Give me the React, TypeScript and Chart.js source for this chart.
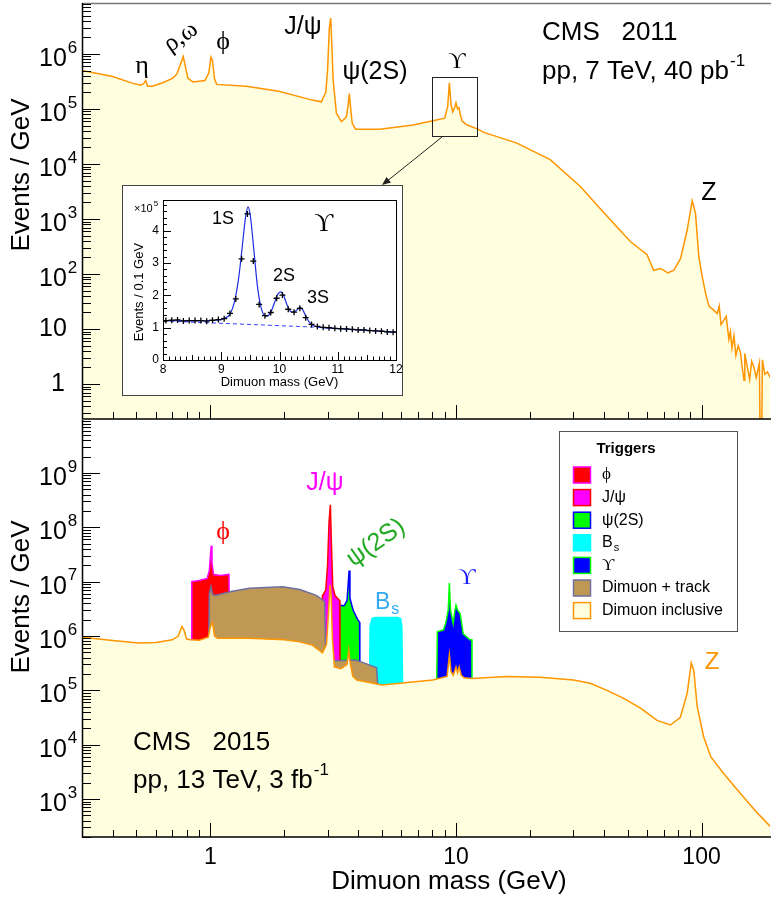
import React, { useEffect, useRef } from 'react';
import { Chart, registerables } from 'chart.js';

Chart.register(...registerables);

const SANS = '"Liberation Sans", Arial, Helvetica, sans-serif';
const SERIF = '"Liberation Serif", "DejaVu Serif", "Times New Roman", serif';

// ---------------- 2011: dimuon inclusive (top panel) ----------------
const mass2011 = [0.3, 0.4, 0.48, 0.52, 0.535, 0.545, 0.555, 0.58, 0.64, 0.7, 0.73, 0.755, 0.775, 0.79, 0.81, 0.85, 0.95, 0.985, 1.005, 1.02, 1.04, 1.06, 1.4, 1.9, 2.6, 2.83, 2.95, 3.0, 3.05, 3.09, 3.12, 3.16, 3.26, 3.42, 3.58, 3.64, 3.68, 3.72, 3.78, 3.9, 4.9, 6.7, 7.8, 9.0, 9.25, 9.4, 9.55, 9.7, 9.9, 10.0, 10.15, 10.3, 10.4, 10.6, 11.1, 12.3, 12.9, 17.7, 24.2, 32.1, 37.5, 43.9, 51.3, 60.0, 63.8, 68.0, 73.0, 77.1, 82.1, 87.4, 91.6, 94.5, 97.5, 100.7, 103.8, 107.2, 112, 115.9, 118, 120, 123.3, 126, 129.2, 131, 133, 135.5, 138, 141, 144.3, 146, 148.9, 150, 153.7, 157, 160, 163.5, 167, 172, 173.5, 175.5, 176.9, 181, 185.5, 193];
const events2011 = [5.0e5, 3.9e5, 2.95e5, 2.7e5, 2.9e5, 3.3e5, 2.6e5, 2.6e5, 3.0e5, 3.6e5, 4.3e5, 6.5e5, 9.0e5, 6.0e5, 3.6e5, 3.1e5, 3.3e5, 4.5e5, 8.8e5, 7.5e5, 3.5e5, 2.8e5, 2.6e5, 2.1e5, 1.45e5, 1.35e5, 2.0e5, 5.0e5, 3.0e6, 4.5e6, 1.6e6, 3.4e5, 8.3e4, 5.9e4, 7.2e4, 1.2e5, 1.9e5, 1.1e5, 5.5e4, 4.3e4, 4.3e4, 5.1e4, 5.9e4, 6.8e4, 1.1e5, 3.0e5, 1.2e5, 8.9e4, 1.1e5, 1.3e5, 1.0e5, 1.05e5, 8.0e4, 6.0e4, 5.1e4, 4.3e4, 3.8e4, 2.4e4, 1.2e4, 3.9e3, 1.8e3, 830, 390, 224, 117, 126, 105, 117, 190, 630, 2140, 1260, 204, 89, 45, 26, 22, 19, 26, 12, 14.5, 17, 6.5, 9, 4.5, 7.5, 3.3, 5, 3.6, 2.2, 1.17, 3.6, 2.0, 1.2, 2.6, 2.0, 1.3, 2.4, 0.05, 0.05, 2.75, 1.5, 1.66, 1.17];

// ---------------- 2015: dimuon inclusive (bottom panel) ----------------
const mass2015 = [0.3, 0.4, 0.51, 0.6, 0.7, 0.74, 0.765, 0.78, 0.8, 0.83, 0.9, 0.98, 1.0, 1.02, 1.04, 1.07, 1.44, 2.0, 2.31, 2.6, 2.86, 2.97, 3.03, 3.07, 3.1, 3.14, 3.2, 3.4, 3.6, 3.66, 3.7, 3.8, 3.95, 5.0, 8.05, 9.2, 9.4, 9.55, 9.75, 10.0, 10.15, 10.3, 10.5, 10.8, 11.6, 16.1, 22.0, 30.1, 35.2, 41.2, 48.2, 56.4, 65.9, 74.7, 82.0, 87.4, 90.8, 93.0, 96.0, 102, 109, 123, 144, 169, 191];
const events2015 = [9.5e5, 8.3e5, 7.4e5, 7.6e5, 8.5e5, 1.0e6, 1.5e6, 1.3e6, 8.8e5, 8.5e5, 8.4e5, 9.5e5, 1.5e6, 1.75e6, 1.0e6, 9.1e5, 9.1e5, 8.5e5, 7.8e5, 6.8e5, 4.9e5, 7.0e5, 3.0e6, 8.7e6, 6.0e6, 9.0e5, 2.7e5, 2.5e5, 3.0e5, 5.5e5, 3.5e5, 1.8e5, 1.55e5, 1.26e5, 1.55e5, 1.8e5, 4.5e5, 2.2e5, 1.9e5, 2.7e5, 2.1e5, 2.7e5, 1.9e5, 1.7e5, 1.66e5, 1.8e5, 1.74e5, 1.55e5, 1.35e5, 1.0e5, 7.1e4, 4.7e4, 2.8e4, 2.3e4, 3.2e4, 8.9e4, 3.2e5, 2.3e5, 5.0e4, 1.4e4, 6.0e3, 2.95e3, 1.26e3, 550, 310];

// Dimuon + track trigger
const trackMass = [0.985, 0.99, 1.005, 1.02, 1.05, 1.2, 1.44, 1.97, 2.31, 2.7, 2.87, 2.92, 2.95, 3.2, 3.9, 4.3, 4.75, 4.8];
const trackEvents = [9.5e5, 6.0e6, 8.1e6, 5.8e6, 5.6e6, 6.5e6, 7.6e6, 8.1e6, 7.2e6, 5.6e6, 4.6e6, 4.2e6, 3.5e5, 3.5e5, 3.6e5, 3.1e5, 2.6e5, 1.3e5];
// phi trigger
const phiMass = [0.834, 0.84, 0.9, 0.97, 0.99, 1.0, 1.008, 1.015, 1.03, 1.1, 1.19, 1.196];
const phiEvents = [8.5e5, 1.0e7, 1.05e7, 1.15e7, 1.6e7, 3.0e7, 4.6e7, 2.2e7, 1.35e7, 1.3e7, 1.37e7, 9.0e5];
// J/psi trigger
const jpsiMass = [2.855, 2.86, 2.95, 3.0, 3.04, 3.08, 3.11, 3.15, 3.22, 3.36, 3.37];
const jpsiEvents = [4.9e5, 5.5e6, 7.0e6, 2.0e7, 1.2e8, 2.6e8, 5.0e7, 8.0e6, 5.5e6, 4.5e6, 2.0e5];
// psi(2S) trigger
const psi2sMass = [3.335, 3.34, 3.5, 3.6, 3.64, 3.67, 3.7, 3.81, 3.98, 4.05, 4.06];
const psi2sEvents = [2.0e5, 3.7e6, 3.6e6, 4.5e6, 9.0e6, 1.6e7, 5.0e6, 3.0e6, 2.0e6, 1.8e6, 1.5e5];
// Bs trigger
const bsMass = [4.45, 4.47, 4.55, 4.7, 5.8, 5.95, 6.02, 6.06];
const bsEvents = [1.3e5, 1.5e6, 2.1e6, 2.2e6, 2.2e6, 2.1e6, 1.5e6, 1.3e5];
// Upsilon trigger
const upsMass = [8.35, 8.4, 8.9, 9.1, 9.3, 9.4, 9.5, 9.74, 9.9, 10.0, 10.15, 10.4, 10.7, 11.4, 11.6, 11.62];
const upsEvents = [1.55e5, 1.2e6, 1.3e6, 1.8e6, 3.0e6, 9.4e6, 3.0e6, 1.7e6, 3.0e6, 3.7e6, 3.0e6, 2.6e6, 1.1e6, 8.5e5, 8.5e5, 1.66e5];

// ---------------- inset: Upsilon region (x10^5 events / 0.1 GeV) ----------------
const insetBinMass = [8.05, 8.15, 8.25, 8.35, 8.45, 8.55, 8.65, 8.75, 8.85, 8.95, 9.05, 9.15, 9.25, 9.35, 9.45, 9.55, 9.65, 9.75, 9.85, 9.95, 10.05, 10.15, 10.25, 10.35, 10.45, 10.55, 10.65, 10.75, 10.85, 10.95, 11.05, 11.15, 11.25, 11.35, 11.45, 11.55, 11.65, 11.75, 11.85, 11.95];
const insetBinCounts = [1.22, 1.23, 1.24, 1.21, 1.22, 1.22, 1.22, 1.2, 1.23, 1.25, 1.28, 1.44, 1.89, 3.13, 4.52, 3.06, 1.72, 1.37, 1.47, 1.91, 2.01, 1.57, 1.48, 1.6, 1.31, 1.1, 1.04, 1.01, 1.0, 0.98, 0.97, 0.96, 0.95, 0.93, 0.93, 0.91, 0.9, 0.89, 0.87, 0.86];
const fitMass = [8.0, 8.5, 8.9, 9.05, 9.15, 9.22, 9.3, 9.36, 9.42, 9.46, 9.5, 9.56, 9.62, 9.68, 9.74, 9.79, 9.85, 9.92, 9.97, 10.02, 10.07, 10.13, 10.19, 10.24, 10.3, 10.35, 10.4, 10.46, 10.52, 10.6, 10.7, 11.0, 11.5, 12.0];
const fitCounts = [1.22, 1.21, 1.23, 1.28, 1.42, 1.75, 2.55, 3.5, 4.45, 4.74, 4.45, 3.4, 2.3, 1.65, 1.38, 1.36, 1.48, 1.8, 2.03, 2.11, 2.0, 1.7, 1.5, 1.48, 1.55, 1.63, 1.55, 1.32, 1.15, 1.05, 1.01, 0.97, 0.92, 0.86];
const bkgMass = [8.0, 10.7, 12.0];
const bkgCounts = [1.21, 1.01, 0.86];

// ticks
const xTickValues = [1, 10, 100];
const xTickLabels = ['1', '10', '100'];
const topYDecades = [0, 1, 2, 3, 4, 5, 6];
const botYDecades = [3, 4, 5, 6, 7, 8, 9];
const insetXTicks = [8, 9, 10, 11, 12];
const insetYTicks = [0, 1, 2, 3, 4];

// legend
const legendLabels = ['ϕ', 'J/ψ', 'ψ(2S)', 'B', 'ϒ', 'Dimuon + track', 'Dimuon inclusive'];
const legendFills = ['#ff0000', '#ff00ff', '#00ff00', '#00ffff', '#0000ff', '#c09855', '#ffffe0'];
const legendBorders = ['#ff00ff', '#ff0000', '#0000ff', '#00ffff', '#00ff00', '#6f6f9f', '#ff9500'];

type Pt = { x: number; y: number };
const zip = (xs: number[], ys: number[]): Pt[] => xs.map((x, i) => ({ x, y: ys[i] }));

function logTicks(min: number, max: number) {
  const out: { v: number; major: boolean }[] = [];
  for (let d = Math.floor(Math.log10(min)); d <= Math.ceil(Math.log10(max)); d++) {
    for (let k = 1; k <= 9; k++) {
      const v = k * Math.pow(10, d);
      if (v >= min && v <= max) out.push({ v, major: k === 1 });
    }
  }
  return out;
}

type TOpt = { size: number; color?: string; align?: CanvasTextAlign; font?: string; bold?: boolean; rot?: number };
function txt(ctx: CanvasRenderingContext2D, s: string, x: number, y: number, o: TOpt) {
  ctx.save();
  ctx.translate(x, y);
  if (o.rot) ctx.rotate((o.rot * Math.PI) / 180);
  ctx.font = `${o.bold ? 'bold ' : ''}${o.size}px ${o.font || SANS}`;
  ctx.fillStyle = o.color || '#000';
  ctx.textAlign = o.align || 'center';
  ctx.textBaseline = 'middle';
  ctx.fillText(s, 0, 0);
  ctx.restore();
}
// base text + superscript (or subscript); x is left edge
function supTxt(ctx: CanvasRenderingContext2D, base: string, sup: string, x: number, y: number, size: number, color = '#000', sub = false, supSize = 0.65) {
  ctx.save();
  ctx.font = `${size}px ${SANS}`;
  ctx.fillStyle = color;
  ctx.textAlign = 'left';
  ctx.textBaseline = 'middle';
  ctx.fillText(base, x, y);
  const w = ctx.measureText(base).width;
  ctx.font = `${Math.round(size * supSize)}px ${SANS}`;
  ctx.fillText(sup, x + w + 1, sub ? y + size * 0.3 : y - size * 0.4);
  ctx.restore();
}

function drawLogFrame(chart: any, yDecades: number[], xLabels: boolean) {
  const { ctx, chartArea: a } = chart;
  const xs = chart.scales.x;
  const ys = chart.scales.y;
  ctx.save();
  ctx.strokeStyle = '#000';
  ctx.lineWidth = 1;
  ctx.beginPath();
  for (const t of logTicks(ys.min, ys.max)) {
    const py = Math.round(ys.getPixelForValue(t.v)) + 0.5;
    ctx.moveTo(a.left, py);
    ctx.lineTo(a.left + (t.major ? 18 : 9), py);
  }
  for (const t of logTicks(xs.min, xs.max)) {
    const px = Math.round(xs.getPixelForValue(t.v)) + 0.5;
    ctx.moveTo(px, a.bottom);
    ctx.lineTo(px, a.bottom - (t.major ? 14 : 7));
  }
  ctx.stroke();
  ctx.lineWidth = 1.5;
  ctx.beginPath();
  ctx.moveTo(a.left + 0.5, a.top);
  ctx.lineTo(a.left + 0.5, a.bottom);
  ctx.lineTo(a.right + 1, a.bottom);
  ctx.stroke();
  // y labels
  for (const d of yDecades) {
    const py = ys.getPixelForValue(Math.pow(10, d));
    if (d === 0) txt(ctx, '1', 58, py, { size: 25 });
    else if (d === 1) txt(ctx, '10', 39, py, { size: 25, align: 'left' });
    else {
      ctx.font = `25px ${SANS}`;
      ctx.fillStyle = '#000';
      ctx.textAlign = 'left';
      ctx.textBaseline = 'middle';
      ctx.fillText('10', 39, py + 5);
      const w = ctx.measureText('10').width;
      ctx.font = `17px ${SANS}`;
      ctx.fillText(String(d), 39 + w + 1, py - 6);
    }
  }
  if (xLabels) {
    xTickValues.forEach((v, i) => {
      txt(ctx, xTickLabels[i], xs.getPixelForValue(v), a.bottom + 21, { size: 23 });
    });
  }
  ctx.restore();
}

function area(label: string, xs: number[], ys: number[], fill: string, line: string, width = 1.5) {
  return {
    label,
    data: zip(xs, ys),
    borderColor: line,
    backgroundColor: fill,
    borderWidth: width,
    fill: 'start',
    pointRadius: 0,
    tension: 0,
  };
}

const baseOptions = (padding: any, ymin: number, ymax: number) => ({
  responsive: false,
  animation: false,
  devicePixelRatio: 1,
  events: [],
  layout: { padding },
  plugins: { legend: { display: false }, tooltip: { enabled: false } },
  scales: {
    x: { type: 'logarithmic', min: 0.3, max: 190, display: false },
    y: { type: 'logarithmic', min: ymin, max: ymax, display: false },
  },
});

function makeTop(canvas: HTMLCanvasElement) {
  const plugin = {
    id: 'topFrame',
    afterDraw(chart: any) {
      const ctx: CanvasRenderingContext2D = chart.ctx;
      const a = chart.chartArea;
      ctx.save();
      ctx.strokeStyle = '#777';
      ctx.lineWidth = 1.5;
      ctx.beginPath();
      ctx.moveTo(a.left, a.top + 0.5);
      ctx.lineTo(a.right + 1, a.top + 0.5);
      ctx.stroke();
      ctx.restore();
      drawLogFrame(chart, topYDecades, false);
      // Upsilon box and arrow
      ctx.save();
      ctx.strokeStyle = '#222';
      ctx.lineWidth = 1;
      ctx.strokeRect(432.5, 77.5, 45, 59);
      ctx.beginPath();
      ctx.moveTo(442, 137);
      ctx.lineTo(386, 182);
      ctx.stroke();
      ctx.fillStyle = '#222';
      ctx.beginPath();
      ctx.moveTo(382, 185);
      ctx.lineTo(391, 182.5);
      ctx.lineTo(386.5, 177);
      ctx.closePath();
      ctx.fill();
      ctx.restore();
      // peak labels
      txt(ctx, 'η', 142, 66, { size: 26, font: SERIF });
      txt(ctx, 'ρ,ω', 181, 37, { size: 25, font: SERIF, rot: -35 });
      txt(ctx, 'ϕ', 223, 42, { size: 26, font: SERIF });
      txt(ctx, 'J/ψ', 303, 27, { size: 25 });
      txt(ctx, 'ψ(2S)', 375, 72, { size: 25 });
      txt(ctx, 'ϒ', 457, 62, { size: 24, font: SERIF });
      txt(ctx, 'Z', 709, 193, { size: 25 });
      txt(ctx, 'CMS   2011', 542, 33, { size: 26, align: 'left' });
      supTxt(ctx, 'pp, 7 TeV, 40 pb', '-1', 542, 72, 26);
      txt(ctx, 'Events / GeV', 22, 175, { size: 26, rot: -90 });
    },
  };
  return new Chart(canvas, {
    type: 'line',
    data: { datasets: [area('Dimuon inclusive 2011', mass2011, events2011, '#ffffe0', '#ff9500', 1.5) as any] },
    options: baseOptions({ left: 82, top: 3, right: 1, bottom: 1 }, 0.231, 8.45e6) as any,
    plugins: [plugin],
  });
}

function makeBottom(canvas: HTMLCanvasElement) {
  const plugin = {
    id: 'botFrame',
    afterDraw(chart: any) {
      const ctx: CanvasRenderingContext2D = chart.ctx;
      drawLogFrame(chart, botYDecades, true);
      txt(ctx, 'Dimuon mass (GeV)', 449, 462, { size: 26 });
      txt(ctx, 'Events / GeV', 22, 177, { size: 26, rot: -90 });
      // peak labels
      txt(ctx, 'ϕ', 223, 112, { size: 26, font: SERIF, color: '#ff0000' });
      txt(ctx, 'J/ψ', 325, 63, { size: 25, color: '#ff00ff' });
      txt(ctx, 'ψ(2S)', 376, 123, { size: 25, color: '#22aa22', rot: -35 });
      supTxt(ctx, 'B', 's', 375, 183, 23, '#33aaee', true, 0.7);
      txt(ctx, 'ϒ', 467, 158, { size: 24, font: SERIF, color: '#2020ff' });
      txt(ctx, 'Z', 712, 242, { size: 24, color: '#ff9500' });
      txt(ctx, 'CMS   2015', 133, 323, { size: 26, align: 'left' });
      supTxt(ctx, 'pp, 13 TeV, 3 fb', '-1', 133, 361, 26);
      // legend
      ctx.save();
      ctx.fillStyle = '#fff';
      ctx.strokeStyle = '#555';
      ctx.lineWidth = 1;
      ctx.fillRect(559.5, 11.5, 178, 200);
      ctx.strokeRect(559.5, 11.5, 178, 200);
      ctx.restore();
      txt(ctx, 'Triggers', 626, 29, { size: 15, bold: true });
      legendLabels.forEach((lab, i) => {
        const cy = 55 + i * 22.6;
        ctx.save();
        ctx.fillStyle = legendFills[i];
        ctx.strokeStyle = legendBorders[i];
        ctx.lineWidth = 1.5;
        ctx.fillRect(573.5, cy - 8, 17, 16);
        ctx.strokeRect(573.5, cy - 8, 17, 16);
        ctx.restore();
        if (lab === 'B') supTxt(ctx, 'B', 's', 602, cy, 16, '#000', true, 0.7);
        else if (lab === 'ϒ' || lab === 'ϕ') txt(ctx, lab, 602, cy, { size: 17, align: 'left', font: SERIF });
        else txt(ctx, lab, 602, cy, { size: 16, align: 'left' });
      });
    },
  };
  return new Chart(canvas, {
    type: 'line',
    data: {
      datasets: [
        area('Dimuon inclusive', mass2015, events2015, '#ffffe0', '#ff9500', 1.5),
        area('Dimuon + track', trackMass, trackEvents, '#c09855', '#6f6f9f', 1.5),
        area('phi', phiMass, phiEvents, '#ff0000', '#ff00ff', 1.5),
        area('J/psi', jpsiMass, jpsiEvents, '#ff00ff', '#ff0000', 1.5),
        area('psi(2S)', psi2sMass, psi2sEvents, '#00ff00', '#0000ff', 1.5),
        area('Bs', bsMass, bsEvents, '#00ffff', '#00ffff', 1.5),
        area('Upsilon', upsMass, upsEvents, '#0000ff', '#00ff00', 1.5),
      ] as any,
    },
    options: baseOptions({ left: 82, top: 0, right: 1, bottom: 63 }, 200, 9.45e9) as any,
    plugins: [plugin],
  });
}

function makeInset(canvas: HTMLCanvasElement) {
  const plugin = {
    id: 'insetFrame',
    afterDraw(chart: any) {
      const ctx: CanvasRenderingContext2D = chart.ctx;
      const a = chart.chartArea;
      const xs = chart.scales.x;
      const ys = chart.scales.y;
      ctx.save();
      ctx.strokeStyle = '#000';
      ctx.lineWidth = 1;
      ctx.strokeRect(a.left + 0.5, a.top + 0.5, a.right - a.left, a.bottom - a.top);
      ctx.beginPath();
      for (let i = 80; i <= 120; i++) {
        const px = Math.round(xs.getPixelForValue(i / 10)) + 0.5;
        const len = i % 10 === 0 ? 8 : i % 5 === 0 ? 5 : 3.5;
        ctx.moveTo(px, a.bottom);
        ctx.lineTo(px, a.bottom - len);
      }
      for (let i = 0; i <= 24; i++) {
        const py = Math.round(ys.getPixelForValue(i * 0.2)) + 0.5;
        const len = i % 5 === 0 ? 8 : 4;
        ctx.moveTo(a.left, py);
        ctx.lineTo(a.left + len, py);
      }
      ctx.stroke();
      ctx.restore();
      insetXTicks.forEach((v) => txt(ctx, String(v), xs.getPixelForValue(v), a.bottom + 10, { size: 12 }));
      insetYTicks.forEach((v) => txt(ctx, String(v), a.left - 4, ys.getPixelForValue(v), { size: 12, align: 'right' }));
      ctx.save();
      ctx.font = `11px ${SANS}`;
      ctx.fillStyle = '#000';
      ctx.textBaseline = 'middle';
      ctx.fillText('×10', 11, 23);
      const w = ctx.measureText('×10').width;
      ctx.font = `8px ${SANS}`;
      ctx.fillText('5', 11 + w + 1, 18);
      ctx.restore();
      txt(ctx, 'Dimuon mass (GeV)', (a.left + a.right) / 2, 196, { size: 13 });
      txt(ctx, 'Events / 0.1 GeV', 16, 106, { size: 13, rot: -90 });
      txt(ctx, '1S', 100, 33, { size: 18 });
      txt(ctx, '2S', 161, 90, { size: 18 });
      txt(ctx, '3S', 195, 112, { size: 18 });
      txt(ctx, 'ϒ', 201, 38, { size: 26, font: SERIF });
    },
  };
  return new Chart(canvas, {
    type: 'line',
    data: {
      datasets: [
        {
          label: 'data',
          data: zip(insetBinMass, insetBinCounts),
          showLine: false,
          pointStyle: 'cross',
          pointRadius: 3,
          borderColor: '#000',
          backgroundColor: '#000',
          pointBorderWidth: 1.3,
        },
        {
          label: 'fit',
          data: zip(fitMass, fitCounts),
          borderColor: '#1f2fe0',
          borderWidth: 1.2,
          pointRadius: 0,
          cubicInterpolationMode: 'monotone',
          fill: false,
        },
        {
          label: 'background',
          data: zip(bkgMass, bkgCounts),
          borderColor: '#3040ff',
          borderWidth: 1,
          borderDash: [4, 3],
          pointRadius: 0,
          fill: false,
        },
      ] as any,
    },
    options: {
      responsive: false,
      animation: false,
      devicePixelRatio: 1,
      events: [],
      layout: { padding: { left: 40, top: 14, right: 6, bottom: 35 } },
      plugins: { legend: { display: false }, tooltip: { enabled: false } },
      scales: {
        x: { type: 'linear', min: 8, max: 12, display: false },
        y: { type: 'linear', min: 0, max: 4.95, display: false },
      },
    } as any,
    plugins: [plugin],
  });
}

export default function App() {
  const topRef = useRef<HTMLCanvasElement>(null);
  const botRef = useRef<HTMLCanvasElement>(null);
  const insRef = useRef<HTMLCanvasElement>(null);
  useEffect(() => {
    const charts = [makeTop(topRef.current!), makeBottom(botRef.current!), makeInset(insRef.current!)];
    return () => charts.forEach((c) => c.destroy());
  }, []);
  return (
    <div style={{ position: 'absolute', left: 0, top: 0, width: 771, height: 900, background: '#fff', overflow: 'hidden' }}>
      <canvas ref={topRef} width={771} height={420} style={{ position: 'absolute', left: 0, top: 0 }} />
      <canvas ref={botRef} width={771} height={480} style={{ position: 'absolute', left: 0, top: 420 }} />
      <div
        style={{
          position: 'absolute',
          left: 122,
          top: 185,
          width: 281,
          height: 211,
          border: '1px solid #444',
          boxSizing: 'border-box',
          background: '#fff',
        }}
      >
        <canvas ref={insRef} width={279} height={209} style={{ display: 'block' }} />
      </div>
    </div>
  );
}
